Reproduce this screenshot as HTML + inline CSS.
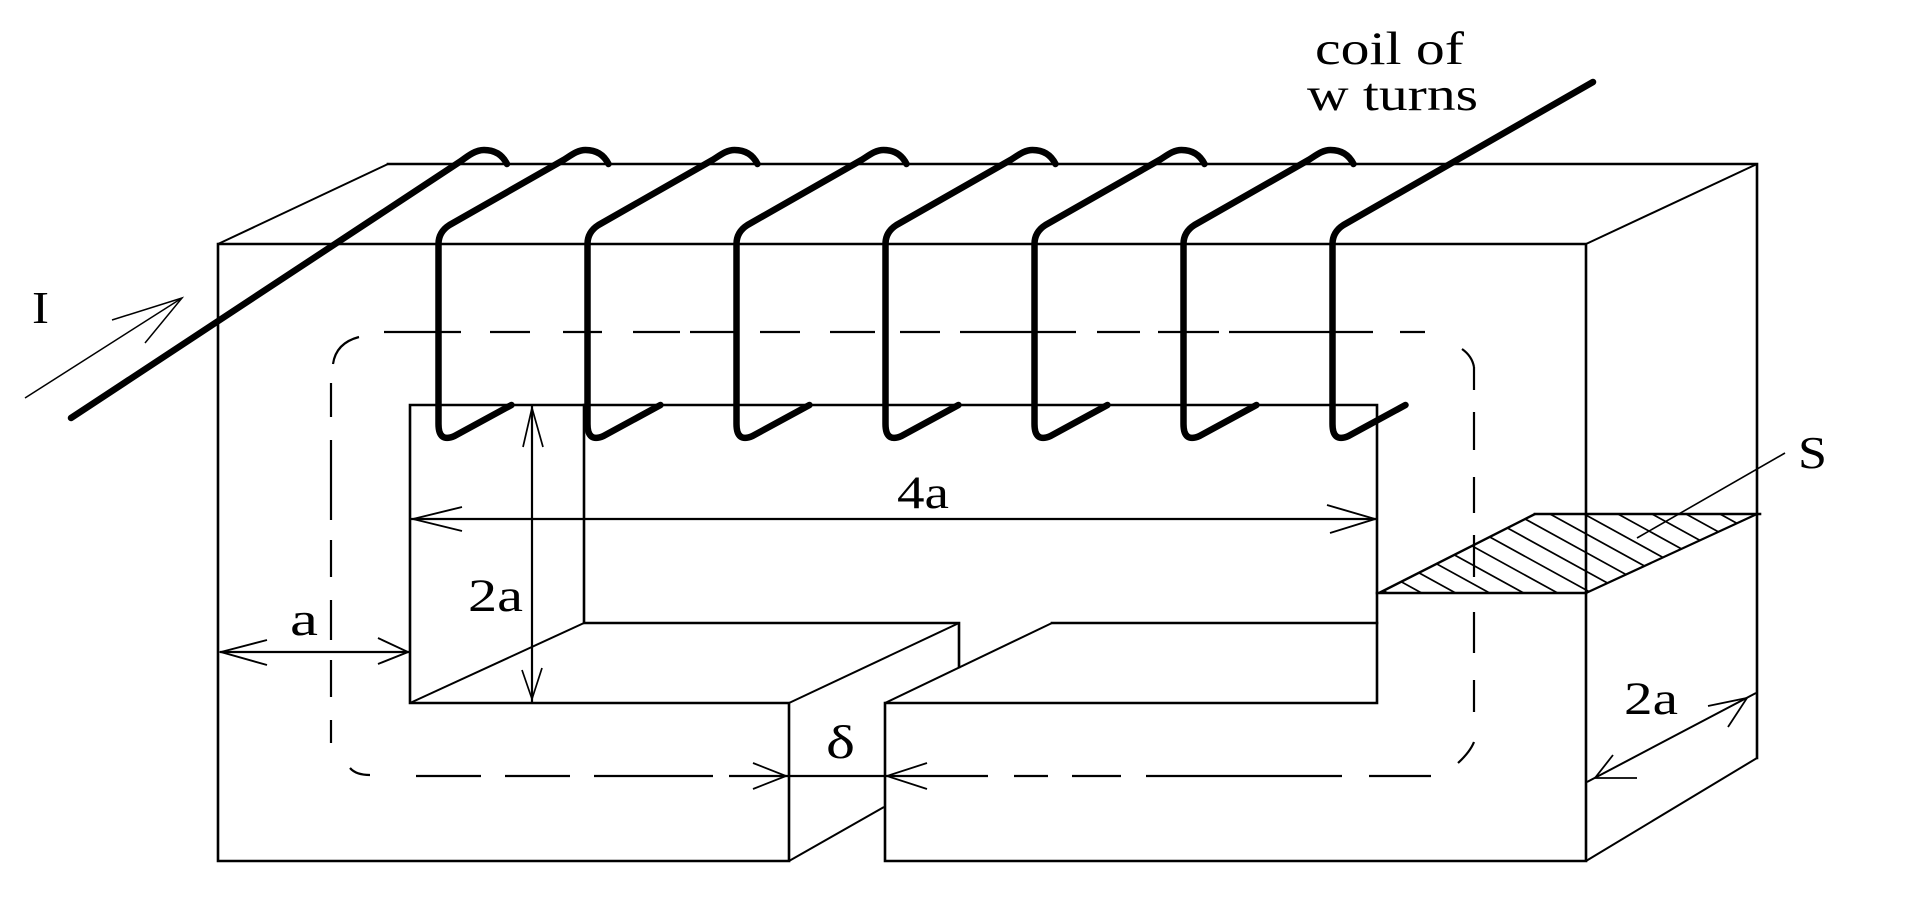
<!DOCTYPE html>
<html>
<head>
<meta charset="utf-8">
<style>
  html, body { margin: 0; padding: 0; background: #fff; }
  body { width: 1911px; height: 923px; overflow: hidden; }
  svg { display: block; }
  text { font-family: "Liberation Serif", "DejaVu Serif", serif; fill: #000; }
</style>
</head>
<body>
<svg width="1911" height="923" viewBox="0 0 1911 923" xmlns="http://www.w3.org/2000/svg">
  <rect x="0" y="0" width="1911" height="923" fill="#fff"/>
  <defs>
    <clipPath id="cut">
      <polygon points="1379,593 1586,593 1757,514 1535,514"/>
    </clipPath>
  </defs>

  <!-- Hatching of cross-section S -->
  <g clip-path="url(#cut)" stroke="#000" stroke-width="1.7" fill="none">
    <path d="M1210,514 l240,132 M1244,514 l240,132 M1278,514 l240,132 M1312,514 l240,132 M1346,514 l240,132 M1380,514 l240,132 M1414,514 l240,132 M1448,514 l240,132 M1482,514 l240,132 M1516,514 l240,132 M1550,514 l240,132 M1584,514 l240,132 M1618,514 l240,132 M1652,514 l240,132 M1686,514 l240,132 M1720,514 l240,132"/>
  </g>

  <!-- Core: main solid outline -->
  <g stroke="#000" stroke-width="2.6" fill="none" stroke-linejoin="miter" stroke-linecap="square">
    <path d="M218,244 H1586 V861 H885 V703 H1377 V405 H410 V703 H789 V861 H218 Z"/>
    <path d="M388,164 H1757 V758"/>
    <path d="M584,405 V623 H959 V667"/>
    <path d="M1052,623 H1377"/>
    <path d="M1377,593 H1586"/>
    <path d="M1535,514 H1760"/>
  </g>

  <!-- Core: receding (depth) edges -->
  <g stroke="#000" stroke-width="2" fill="none" stroke-linecap="butt">
    <path d="M218,244 L388,164"/>
    <path d="M1586,244 L1757,164"/>
    <path d="M1586,861 L1757,758"/>
    <path d="M410,703 L584,623"/>
    <path d="M789,703 L959,623"/>
    <path d="M885,703 L1052,623"/>
    <path d="M789,861 L884,807"/>
    <path d="M1379,593 L1535,514" stroke-width="2.4"/>
    <path d="M1586,593 L1757,514" stroke-width="2.2"/>
  </g>

  <!-- Flux path (dashed) -->
  <g stroke="#000" stroke-width="2.2" fill="none">
    <path d="M384,332 H461 M490,332 H530 M563,332 H602 M633,332 H680 M690,332 H735 M760,332 H800 M830,332 H875 M900,332 H940 M960,332 H1076 M1097,332 H1140 M1158,332 H1219 M1229,332 H1373 M1400,332 H1425"/>
    <path d="M333,364 Q336,343 359,337"/>
    <path d="M331,383 V417 M331,440 V520 M331,540 V577 M331,600 V640 M331,660 V697 M331,720 V743"/>
    <path d="M350,768 Q356,775 370,775"/>
    <path d="M416,776 H481 M505,776 H570 M594,776 H713 M729,776 H988 M1014,776 H1048 M1072,776 H1121 M1146,776 H1342 M1369,776 H1431"/>
    <path d="M1458,763 Q1470,752 1474,742"/>
    <path d="M1474,367 V390 M1474,412 V450 M1474,477 V513 M1474,535 V577 M1474,612 V653 M1474,680 V712"/>
    <path d="M1462,349 Q1472,356 1474,367"/>
    <!-- gap arrows -->
    <path d="M753,763 L786,776 L753,789" stroke-width="1.8"/>
    <path d="M927,763 L887,776 L927,789" stroke-width="1.8"/>
  </g>

  <!-- Dimension lines -->
  <g stroke="#000" stroke-width="2.2" fill="none">
    <!-- a -->
    <path d="M220,652 H409"/>
    <path d="M267,640 L221,652 L267,665" stroke-width="1.9"/>
    <path d="M378,638 L408,652 L378,664" stroke-width="1.9"/>
    <!-- 4a -->
    <path d="M411,519 H1376"/>
    <path d="M462,507 L413,519 L462,531" stroke-width="1.9"/>
    <path d="M1327,505 L1375,519 L1330,533" stroke-width="1.9"/>
    <!-- 2a (left, vertical) -->
    <path d="M532,405 V703"/>
    <path d="M523,447 L532,408 L543,447" stroke-width="1.7"/>
    <path d="M522,670 L532,699 L542,668" stroke-width="1.7"/>
    <!-- 2a (right, depth) -->
    <path d="M1587,782 L1756,693" stroke-width="2"/>
    <path d="M1708,706 L1747,698 L1728,727" stroke-width="1.8"/>
    <path d="M1613,755 L1595,778 L1637,778" stroke-width="1.8"/>
  </g>

  <!-- Current arrow I -->
  <g stroke="#000" stroke-width="1.5" fill="none">
    <path d="M25,398 L182,298"/>
    <path d="M112,320 L182,298 L145,343"/>
  </g>

  <!-- S leader -->
  <path d="M1637,538 L1785,453" stroke="#000" stroke-width="1.6" fill="none"/>

  <!-- Coil -->
  <g stroke="#000" stroke-width="6.5" fill="none" stroke-linejoin="round" stroke-linecap="round">
    <path d="M71,418 L461,161 C469,155 476,150 484,150 C496,150 503,156 507,164"/>
    <path d="M511.5,405 L454.5,436 Q438.5,443 438.5,424 L438.5,244 Q438.5,232 449.5,225 L563.5,160 C571.5,155 577.5,150 585.5,150 C597.5,150 604.5,156 608.5,164"/>
    <path d="M660.5,405 L603.5,436 Q587.5,443 587.5,424 L587.5,244 Q587.5,232 598.5,225 L712.5,160 C720.5,155 726.5,150 734.5,150 C746.5,150 753.5,156 757.5,164"/>
    <path d="M809.5,405 L752.5,436 Q736.5,443 736.5,424 L736.5,244 Q736.5,232 747.5,225 L861.5,160 C869.5,155 875.5,150 883.5,150 C895.5,150 902.5,156 906.5,164"/>
    <path d="M958.5,405 L901.5,436 Q885.5,443 885.5,424 L885.5,244 Q885.5,232 896.5,225 L1010.5,160 C1018.5,155 1024.5,150 1032.5,150 C1044.5,150 1051.5,156 1055.5,164"/>
    <path d="M1107.5,405 L1050.5,436 Q1034.5,443 1034.5,424 L1034.5,244 Q1034.5,232 1045.5,225 L1159.5,160 C1167.5,155 1173.5,150 1181.5,150 C1193.5,150 1200.5,156 1204.5,164"/>
    <path d="M1256.5,405 L1199.5,436 Q1183.5,443 1183.5,424 L1183.5,244 Q1183.5,232 1194.5,225 L1308.5,160 C1316.5,155 1322.5,150 1330.5,150 C1342.5,150 1349.5,156 1353.5,164"/>
    <path d="M1405.5,405 L1348.5,436 Q1332.5,443 1332.5,424 L1332.5,244 Q1332.5,232 1343.5,225 L1593,82"/>
  </g>

  <!-- Labels -->
  <text x="1315" y="64" font-family="'Liberation Serif', serif" font-size="47" textLength="149" lengthAdjust="spacingAndGlyphs">coil of</text>
  <text x="1307" y="110" font-family="'Liberation Serif', serif" font-size="47" textLength="171" lengthAdjust="spacingAndGlyphs">w turns</text>
  <text x="32" y="323" font-family="'Liberation Serif', serif" font-size="46" textLength="17" lengthAdjust="spacingAndGlyphs">I</text>
  <text x="290" y="635" font-family="'Liberation Serif', serif" font-size="48" textLength="28" lengthAdjust="spacingAndGlyphs">a</text>
  <text x="468" y="611" font-family="'Liberation Serif', serif" font-size="47" textLength="55" lengthAdjust="spacingAndGlyphs">2a</text>
  <text x="897" y="508" font-family="'Liberation Serif', serif" font-size="47" textLength="52" lengthAdjust="spacingAndGlyphs">4a</text>
  <text x="826" y="758" font-family="'Liberation Serif', serif" font-size="47" textLength="29" lengthAdjust="spacingAndGlyphs">δ</text>
  <text x="1798" y="468" font-family="'Liberation Serif', serif" font-size="45" textLength="29" lengthAdjust="spacingAndGlyphs">S</text>
  <text x="1624" y="714" font-family="'Liberation Serif', serif" font-size="47" textLength="54" lengthAdjust="spacingAndGlyphs">2a</text>
</svg>
</body>
</html>
